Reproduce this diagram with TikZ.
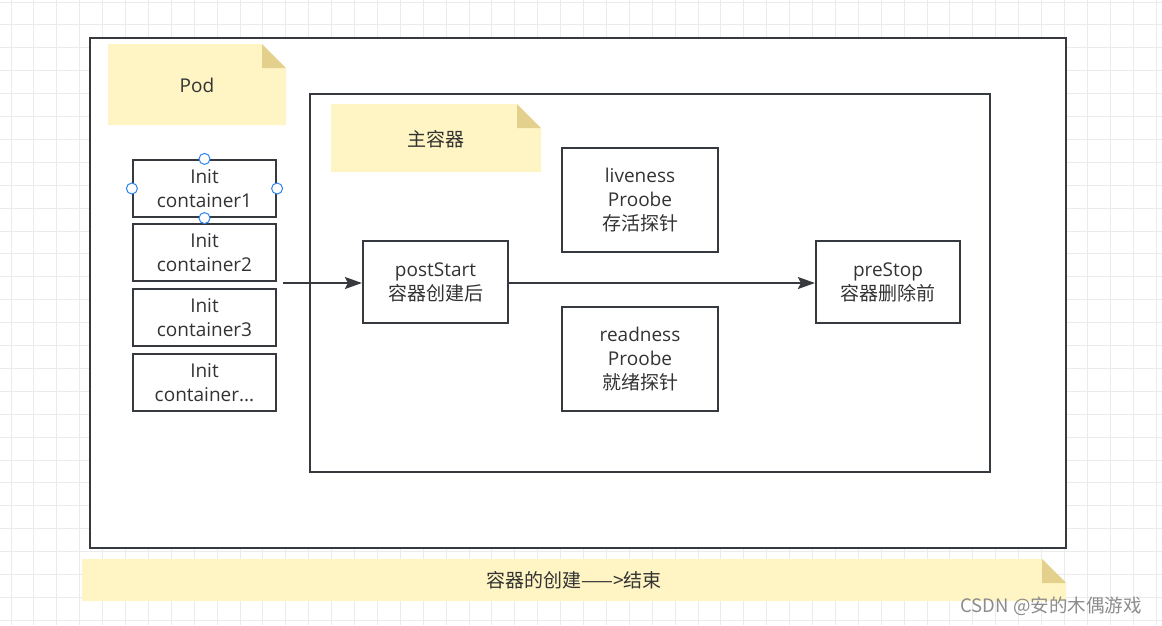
\documentclass[tikz,border=0pt]{standalone}
\usepackage{fontspec}
\setmainfont{Open Sans}
\newfontfamily\cjk{Noto Sans CJK SC}
\usetikzlibrary{arrows.meta}
\definecolor{gridc}{HTML}{EBEBEB}
\definecolor{boxc}{HTML}{36393D}
\definecolor{txtc}{HTML}{333333}
\definecolor{notec}{HTML}{FFF4C3}
\definecolor{foldc}{HTML}{E3D08C}
\definecolor{handlec}{HTML}{2B83F0}
\tikzset{
  stepbox/.style={draw=boxc, line width=2.2pt, fill=white, text=txtc, align=center, inner sep=0pt,
    font=\fontsize{19}{24}\selectfont},
  notetext/.style={text=txtc, font=\fontsize{19}{24}\selectfont, inner sep=0pt},
  arr/.style={draw=boxc, line width=1.6pt, -{Stealth[length=17pt,width=12pt,inset=3pt]}},
  handle/.style={circle, draw=handlec, fill=white, line width=1pt, minimum size=11pt, inner sep=0pt},
}
\begin{document}
\begin{tikzpicture}[x=1pt,y=-1pt]
\useasboundingbox (0,0) rectangle (1162,625);
\fill[white] (0,0) rectangle (1162,625);
% grid
\foreach \i in {0,...,50} \draw[gridc, line width=1pt] (11+\i*22.9,0) -- ++(0,625);
\foreach \j in {0,...,27} \draw[gridc, line width=1pt] (0,2+\j*22.9) -- ++(1162,0);
% outer pod box
\node[stepbox, minimum width=976pt, minimum height=510pt] (pod) at (578,293) {};
% pod note
\fill[notec] (108,44) -- (262,44) -- (286,68) -- (286,125) -- (108,125) -- cycle;
\fill[foldc] (262,44) -- (286,68) -- (262,68) -- cycle;
\node[notetext] (podnote) at (197,85) {Pod};
% main container box
\node[stepbox, minimum width=680pt, minimum height=378pt] (main) at (650,283) {};
\fill[notec] (331,104) -- (517,104) -- (541,128) -- (541,172) -- (331,172) -- cycle;
\fill[foldc] (517,104) -- (541,128) -- (517,128) -- cycle;
\node[notetext] (mainnote) at (436,139) {\cjk 主容器};
% init containers
\node[stepbox, minimum width=143pt, minimum height=57pt] (init1) at (204.5,188.5) {Init\\container1};
\node[stepbox, minimum width=143pt, minimum height=57pt] (init2) at (204.5,252.5) {Init\\container2};
\node[stepbox, minimum width=143pt, minimum height=57pt] (init3) at (204.5,317.5) {Init\\container3};
\node[stepbox, minimum width=143pt, minimum height=57pt] (init4) at (204.5,382.5) {Init\\container...};
% selection handles
\node[handle] (h1) at (init1.north) {};
\node[handle] (h2) at (init1.south) {};
\node[handle] (h3) at (init1.west) {};
\node[handle] (h4) at (init1.east) {};
% lifecycle boxes
\node[stepbox, minimum width=145pt, minimum height=82pt] (post) at (435.5,282) {postStart\\{\cjk 容器创建后}};
\node[stepbox, minimum width=156pt, minimum height=104pt] (live) at (640,200) {liveness\\Proobe\\{\cjk 存活探针}};
\node[stepbox, minimum width=156pt, minimum height=104pt] (ready) at (640,359) {readness\\Proobe\\{\cjk 就绪探针}};
\node[stepbox, minimum width=144pt, minimum height=82pt] (pre) at (888,282) {preStop\\{\cjk 容器删除前}};
% arrows
\coordinate (a0) at (283,283);
\draw[arr] (a0) -- (a0 -| post.west);
\draw[arr] (post.east |- a0) -- (pre.west |- a0);
% bottom note
\fill[notec] (82,559) -- (1042,559) -- (1066,583) -- (1066,601) -- (82,601) -- cycle;
\fill[foldc] (1042,559) -- (1066,583) -- (1042,583) -- cycle;
\node[notetext] (bottomnote) at (574,580) {\cjk 容器的创建——>结束};
% watermark
\node[text=black!45, font=\cjk\fontsize{18.5}{22}\selectfont, inner sep=0pt] (wm) at (1051,606) {CSDN @安的木偶游戏};
\end{tikzpicture}
\end{document}
